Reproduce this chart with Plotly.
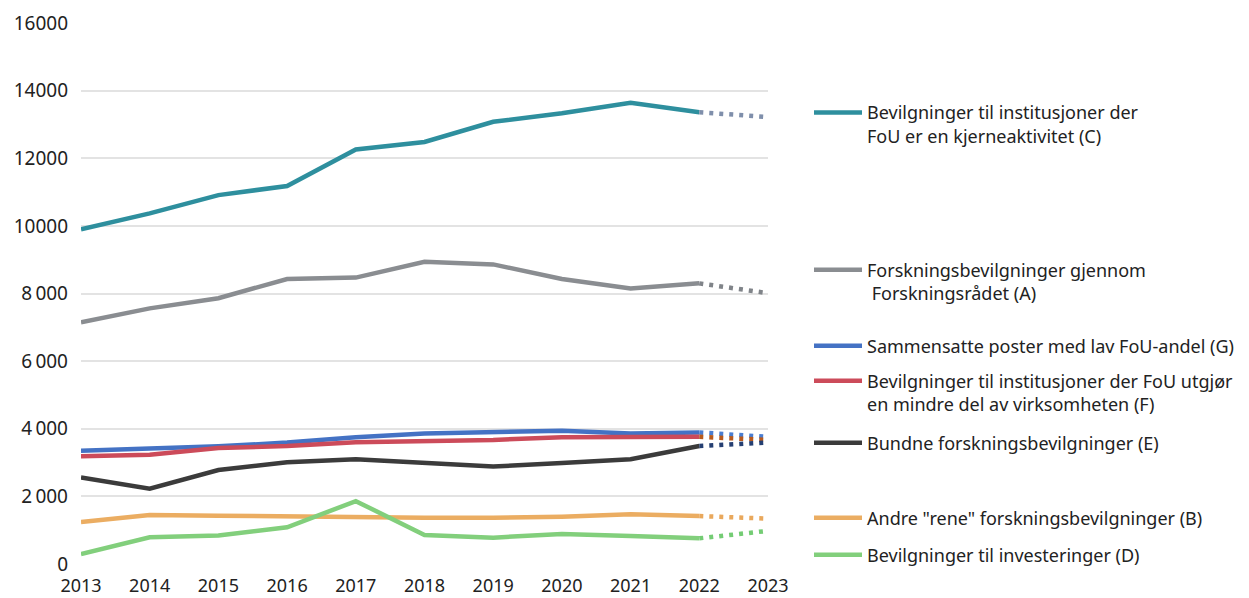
import plotly.graph_objects as go

years = [2013, 2014, 2015, 2016, 2017, 2018, 2019, 2020, 2021, 2022]
proj_years = [2022, 2023]

names = [
    "Bevilgninger til institusjoner der<br>FoU er en kjerneaktivitet (C)",
    "Forskningsbevilgninger gjennom<br> Forskningsrådet (A)",
    "Sammensatte poster med lav FoU-andel (G)",
    "Bevilgninger til institusjoner der FoU utgjør<br>en mindre del av virksomheten (F)",
    "Bundne forskningsbevilgninger (E)",
    "Andre \"rene\" forskningsbevilgninger (B)",
    "Bevilgninger til investeringer (D)",
]

C = [9900, 10370, 10910, 11180, 12260, 12480, 13080, 13330, 13640, 13360]
A = [7150, 7560, 7860, 8430, 8470, 8940, 8860, 8430, 8150, 8300]
G = [3350, 3420, 3480, 3590, 3750, 3860, 3910, 3940, 3860, 3890]
F = [3190, 3230, 3430, 3490, 3600, 3620, 3670, 3750, 3760, 3760]
E = [2560, 2230, 2780, 3010, 3100, 2980, 2880, 2990, 3100, 3490]
B = [1240, 1450, 1430, 1410, 1370, 1370, 1370, 1400, 1470, 1420]
D = [290, 790, 840, 1085, 1860, 860, 780, 890, 830, 760]

proj_2023 = [13220, 8010, 3760, 3670, 3590, 1340, 980]

series = [C, A, G, F, E, B, D]
colors = ["#2e8f9e", "#8a8d91", "#4472c4", "#cc4b5a", "#3b3b3b", "#ebad62", "#82cf7c"]
proj_colors = ["#7f8fab", "#808489", "#4a7dd0", "#b85a1c", "#253f72", "#e9a85c", "#74cc74"]

# legend first-line centre rows (page pixels) for the 7 separate legends
legend_rows = [112.7, 270, 346, 381, 443, 518, 555]

# page offset from the default 8px body margin
OFF = 8
PLOT_L, PLOT_R, PLOT_T, PLOT_B = 81 - OFF, 768 - OFF, 23 - OFF, 564 - OFF
W, H = 1249 - OFF, 598 - OFF

fig = go.Figure()
for i, (vals, col, pcol, nm) in enumerate(zip(series, colors, proj_colors, names)):
    lg = "legend" if i == 0 else f"legend{i+1}"
    fig.add_trace(go.Scatter(
        x=years, y=vals, mode="lines", name=nm,
        line=dict(color=col, width=4.5), legend=lg,
        hoverinfo="x+y"))
    fig.add_trace(go.Scatter(
        x=proj_years, y=[vals[-1], proj_2023[i]], mode="lines",
        line=dict(color=pcol, width=4.5, dash="4px,6px"),
        showlegend=False, hoverinfo="x+y"))

layout_legends = {}
for i, row in enumerate(legend_rows):
    key = "legend" if i == 0 else f"legend{i+1}"
    ypap = (PLOT_B - (row - OFF - 18.5)) / (PLOT_B - PLOT_T)
    layout_legends[key] = dict(
        x=(809 - OFF - PLOT_L) / (PLOT_R - PLOT_L), xanchor="left",
        y=ypap, yanchor="top", valign="top",
        bgcolor="rgba(0,0,0,0)", borderwidth=0,
        font=dict(family="Noto Sans", size=18, color="#222222"),
        itemwidth=48, tracegroupgap=0,
    )

ytick_vals = [0, 2000, 4000, 6000, 8000, 10000, 12000, 14000, 16000]
ytick_text = ["0", "2\u2009000", "4\u2009000", "6\u2009000", "8\u2009000", "10000", "12000", "14000", "16000"]
xtick_vals = list(range(2013, 2024))

fig.update_layout(
    width=W, height=H,
    margin=dict(l=PLOT_L, r=W - PLOT_R, t=PLOT_T, b=H - PLOT_B, autoexpand=False),
    paper_bgcolor="white", plot_bgcolor="white",
    font=dict(family="Noto Sans", color="#222222"),
    showlegend=True,
    xaxis=dict(range=[2013, 2023], tickvals=xtick_vals, ticktext=[str(v) for v in xtick_vals],
               showgrid=False, zeroline=False, showline=False, ticks="",
               ticklabelstandoff=9,
               tickfont=dict(size=18, color="#222222"), fixedrange=True),
    yaxis=dict(range=[0, 16000], tickvals=ytick_vals, ticktext=ytick_text,
               showgrid=True, gridcolor="#e3e3e3", gridwidth=1.5, zeroline=False,
               showline=False, ticks="", ticklabelstandoff=12,
               tickfont=dict(size=19, color="#222222"),
               fixedrange=True),
    **layout_legends,
)

fig.write_html("out.html")
